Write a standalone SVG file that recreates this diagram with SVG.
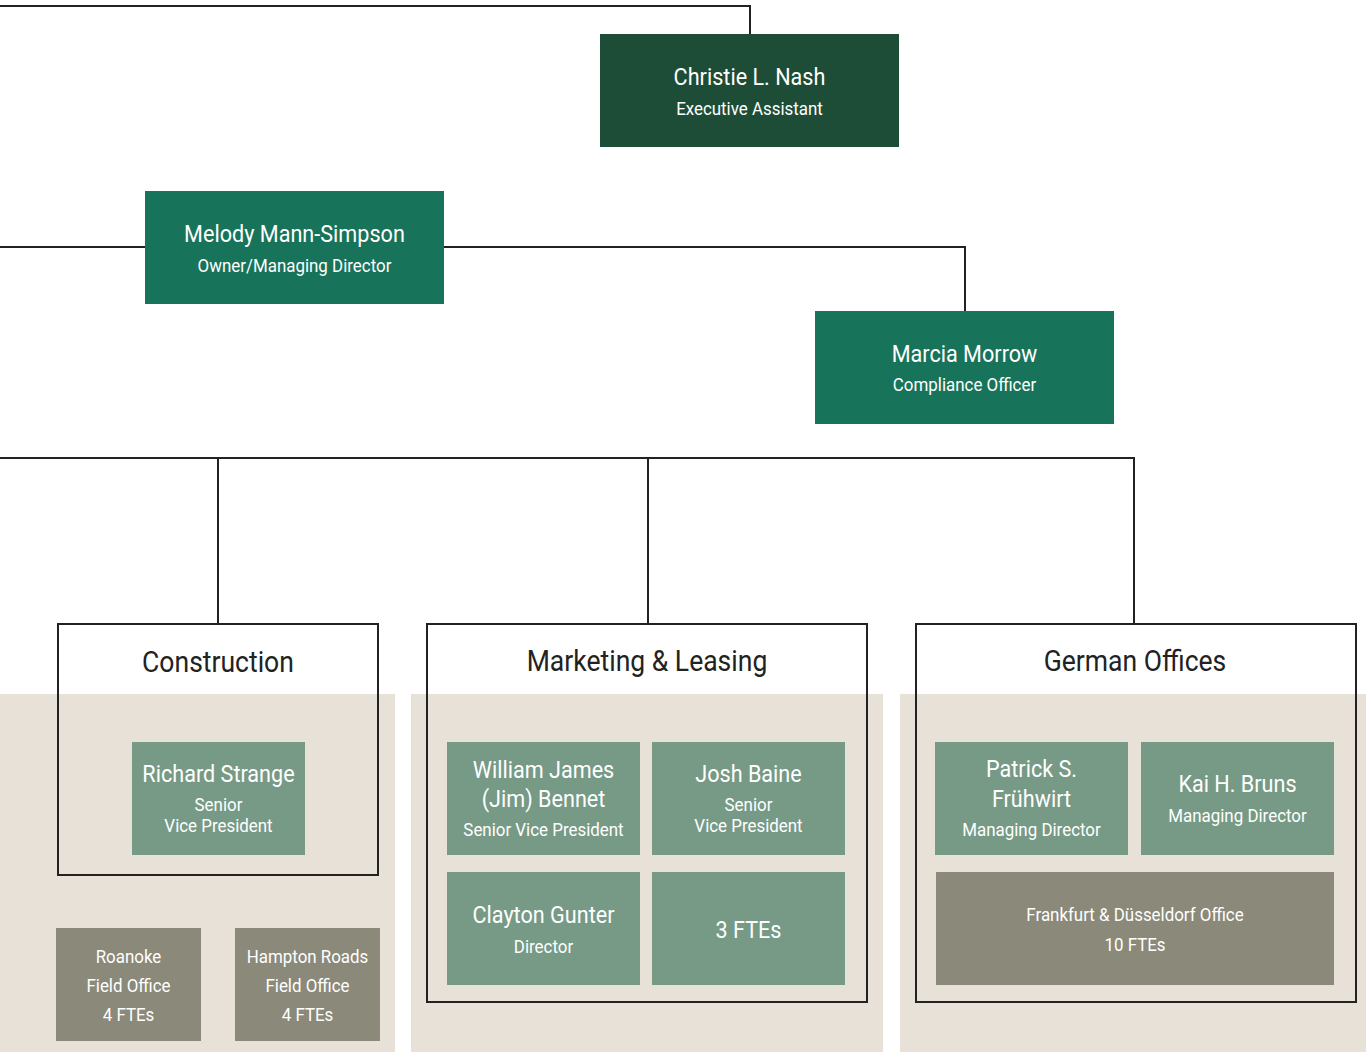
<svg xmlns="http://www.w3.org/2000/svg" width="1366" height="1052" viewBox="0 0 1366 1052">
<style>
.ln{fill:none;stroke:#222;stroke-width:2}
.dept{fill:none;stroke:#222;stroke-width:2}
.bg{fill:#e8e1d8}
.dk{fill:#1e4d37}
.md{fill:#17735a}
.lt{fill:#769a85}
.gr{fill:#8b8979}
text{font-family:Roboto,"Noto Sans","Liberation Sans",sans-serif;text-anchor:middle;fill:#fff}
.n{font-size:23px}
.t{font-size:18px}
.h{font-size:29px;fill:#222}
</style>
<rect width="1366" height="1052" fill="#fff"/>
<g id="backgrounds">
<rect class="bg" x="0" y="694" width="395" height="358"/>
<rect class="bg" x="411" y="694" width="472" height="358"/>
<rect class="bg" x="900" y="694" width="466" height="358"/>
</g>
<g id="connectors">
<polyline class="ln" points="0,6 750,6 750,34"/>
<line class="ln" x1="0" y1="247" x2="145" y2="247"/>
<polyline class="ln" points="444,247 965,247 965,311"/>
<line class="ln" x1="0" y1="458" x2="1135" y2="458"/>
<line class="ln" x1="218" y1="458" x2="218" y2="624"/>
<line class="ln" x1="648" y1="458" x2="648" y2="624"/>
<line class="ln" x1="1134" y1="458" x2="1134" y2="624"/>
</g>
<g id="christie">
<rect class="dk" x="600" y="34" width="299" height="113"/>
<g transform="translate(749.5 0) scale(0.94 1)"><text class="n" x="0" y="85">Christie L. Nash</text><text class="t" x="0" y="115">Executive Assistant</text></g>
</g>
<g id="melody">
<rect class="md" x="145" y="191" width="299" height="113"/>
<g transform="translate(294.5 0) scale(0.94 1)"><text class="n" x="0" y="242">Melody Mann-Simpson</text><text class="t" x="0" y="272">Owner/Managing Director</text></g>
</g>
<g id="marcia">
<rect class="md" x="815" y="311" width="299" height="113"/>
<g transform="translate(964.5 0) scale(0.94 1)"><text class="n" x="0" y="362">Marcia Morrow</text><text class="t" x="0" y="391">Compliance Officer</text></g>
</g>
<g id="construction">
<rect class="dept" x="58" y="624" width="320" height="251"/>
<g transform="translate(218 0) scale(0.915 1)"><text class="h" x="0" y="672">Construction</text></g>
</g>
<g id="marketing">
<rect class="dept" x="427" y="624" width="440" height="378"/>
<g transform="translate(647 0) scale(0.915 1)"><text class="h" x="0" y="671">Marketing &amp; Leasing</text></g>
</g>
<g id="german">
<rect class="dept" x="916" y="624" width="440" height="378"/>
<g transform="translate(1135 0) scale(0.915 1)"><text class="h" x="0" y="671">German Offices</text></g>
</g>
<g id="richard">
<rect class="lt" x="132" y="742" width="173" height="113"/>
<g transform="translate(218.5 0) scale(0.94 1)"><text class="n" x="0" y="782">Richard Strange</text><text class="t" x="0" y="811">Senior</text><text class="t" x="0" y="832">Vice President</text></g>
</g>
<g id="roanoke">
<rect class="gr" x="56" y="928" width="145" height="113"/>
<g transform="translate(128.5 0) scale(0.94 1)"><text class="t" x="0" y="963">Roanoke</text><text class="t" x="0" y="992">Field Office</text><text class="t" x="0" y="1021">4 FTEs</text></g>
</g>
<g id="hampton">
<rect class="gr" x="235" y="928" width="145" height="113"/>
<g transform="translate(307.5 0) scale(0.94 1)"><text class="t" x="0" y="963">Hampton Roads</text><text class="t" x="0" y="992">Field Office</text><text class="t" x="0" y="1021">4 FTEs</text></g>
</g>
<g id="william">
<rect class="lt" x="447" y="742" width="193" height="113"/>
<g transform="translate(543.5 0) scale(0.94 1)"><text class="n" x="0" y="778">William James</text><text class="n" x="0" y="807">(Jim) Bennet</text><text class="t" x="0" y="836">Senior Vice President</text></g>
</g>
<g id="josh">
<rect class="lt" x="652" y="742" width="193" height="113"/>
<g transform="translate(748.5 0) scale(0.94 1)"><text class="n" x="0" y="782">Josh Baine</text><text class="t" x="0" y="811">Senior</text><text class="t" x="0" y="832">Vice President</text></g>
</g>
<g id="clayton">
<rect class="lt" x="447" y="872" width="193" height="113"/>
<g transform="translate(543.5 0) scale(0.94 1)"><text class="n" x="0" y="923">Clayton Gunter</text><text class="t" x="0" y="953">Director</text></g>
</g>
<g id="ftes3">
<rect class="lt" x="652" y="872" width="193" height="113"/>
<g transform="translate(748.5 0) scale(0.94 1)"><text class="n" x="0" y="938">3 FTEs</text></g>
</g>
<g id="patrick">
<rect class="lt" x="935" y="742" width="193" height="113"/>
<g transform="translate(1031.5 0) scale(0.94 1)"><text class="n" x="0" y="777">Patrick S.</text><text class="n" x="0" y="807">Frühwirt</text><text class="t" x="0" y="836">Managing Director</text></g>
</g>
<g id="kai">
<rect class="lt" x="1141" y="742" width="193" height="113"/>
<g transform="translate(1237.5 0) scale(0.94 1)"><text class="n" x="0" y="792">Kai H. Bruns</text><text class="t" x="0" y="822">Managing Director</text></g>
</g>
<g id="frankfurt">
<rect class="gr" x="936" y="872" width="398" height="113"/>
<g transform="translate(1135 0) scale(0.94 1)"><text class="t" x="0" y="921">Frankfurt &amp; Düsseldorf Office</text><text class="t" x="0" y="951">10 FTEs</text></g>
</g>
</svg>
